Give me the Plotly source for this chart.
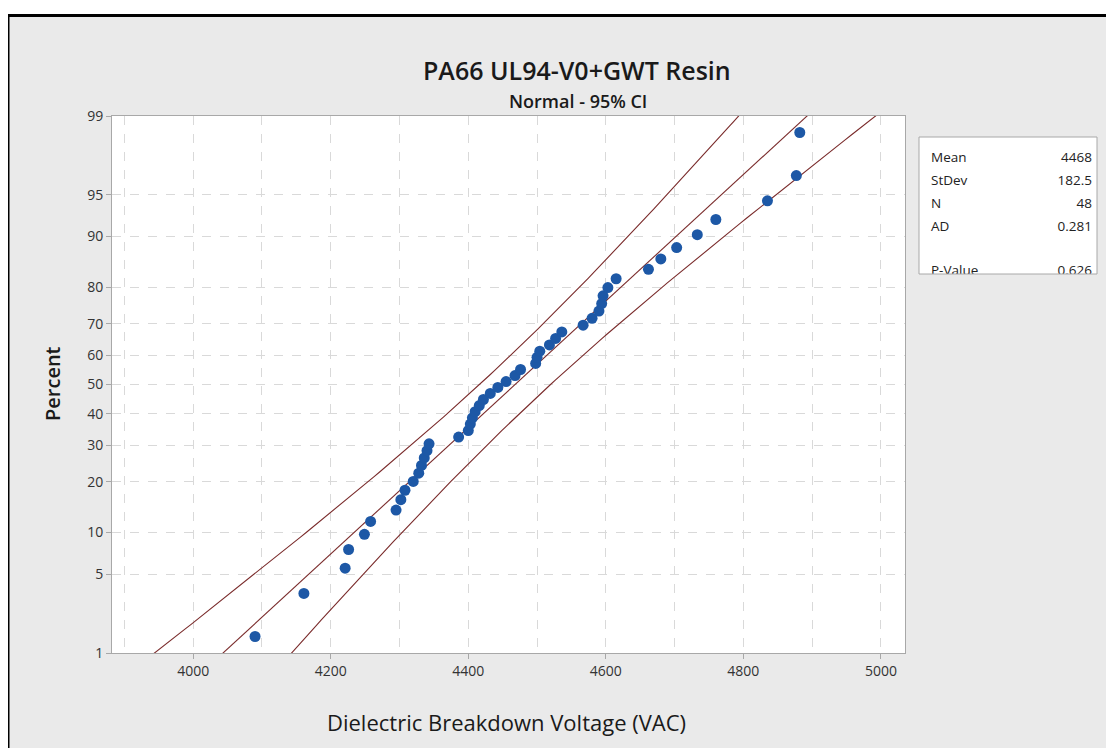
import plotly.graph_objects as go
from statistics import NormalDist

# ---------------- data ----------------
voltage = [4090, 4161, 4221, 4226, 4249, 4258, 4295, 4302, 4308, 4320,
           4328, 4332, 4336, 4340, 4343, 4386, 4400, 4403, 4406, 4410,
           4416, 4422, 4432, 4443, 4455, 4468, 4476, 4498, 4500, 4504,
           4518, 4527, 4536, 4567, 4580, 4590, 4594, 4596, 4603, 4615,
           4662, 4680, 4703, 4733, 4760, 4835, 4877, 4882]
percent = [1.45, 3.51, 5.58, 7.64, 9.71, 11.78, 13.84, 15.91, 17.98, 20.04,
           22.11, 24.17, 26.24, 28.31, 30.37, 32.44, 34.50, 36.57, 38.64, 40.70,
           42.77, 44.83, 46.90, 48.97, 51.03, 53.10, 55.17, 57.23, 59.30, 61.36,
           63.43, 65.50, 67.56, 69.63, 71.69, 73.76, 75.83, 77.89, 79.96, 82.02,
           84.09, 86.16, 88.22, 90.29, 92.36, 94.42, 96.49, 98.55]

stat_labels = ["Mean", "StDev", "N", "AD", "P-Value"]
stat_values = ["4468", "182.5", "48", "0.281", "0.626"]
mean_v, sd_v, n_v = 4468, 182.5, 48

y_tick_pct = [1, 5, 10, 20, 30, 40, 50, 60, 70, 80, 90, 95, 99]
x_tick_vals = [4000, 4200, 4400, 4600, 4800, 5000]

# ---------------- helpers ----------------
nd = NormalDist()
def zq(p):
    return nd.inv_cdf(p / 100.0)

OFF = 8                      # page body margin
W, H = 1114 - OFF, 748 - OFF
ML, MR, MT, MB = 112 - OFF, 10, 116 - OFF, 95
PW, PH = W - ML - MR, H - MT - MB
def px(x):                   # x in reference-window pixels -> paper
    return (x - OFF - ML) / PW
def py(y):                   # y in reference-window pixels -> paper
    return (H - MB - (y - OFF)) / PH

FONT = "Open Sans"
LINE_COL = "#7A2B2B"
TXT = "#1A1A1A"

# fitted line and 95% CI (from the displayed mean / stdev / N)
zs = [-3.2 + i * 0.04 for i in range(161)]
fit_x = [mean_v + sd_v * z for z in zs]
half = [1.96 * sd_v / n_v ** 0.5 * (1 + z * z / 2) ** 0.5 for z in zs]
lo_x = [f - h for f, h in zip(fit_x, half)]
hi_x = [f + h for f, h in zip(fit_x, half)]

fig = go.Figure()
for xs in (lo_x, fit_x, hi_x):
    fig.add_trace(go.Scatter(x=xs, y=zs, mode="lines",
                             line=dict(color=LINE_COL, width=1.1),
                             hoverinfo="skip", showlegend=False))
fig.add_trace(go.Scatter(x=voltage, y=[zq(p) for p in percent], mode="markers",
                         marker=dict(color="#1D58A6", size=11),
                         showlegend=False))

# stats box as clipped text on its own axes
BOX_L, BOX_R, BOX_T, BOX_B = 919, 1097, 137, 274
row_px = [159, 182, 205, 228, 272]
row_y = [(BOX_B - r) / (BOX_B - BOX_T) for r in row_px]
lab_x = (931 - BOX_L) / (BOX_R - BOX_L)
val_x = (1092 - BOX_L) / (BOX_R - BOX_L)
fig.add_trace(go.Scatter(x=[lab_x] * 5, y=row_y,
                         text=stat_labels, mode="text", textposition="middle right",
                         textfont=dict(family=FONT, size=13.5, color="#222222"),
                         xaxis="x2", yaxis="y2", cliponaxis=True,
                         hoverinfo="skip", showlegend=False))
fig.add_trace(go.Scatter(x=[val_x] * 5, y=row_y,
                         text=stat_values, mode="text", textposition="middle left",
                         textfont=dict(family=FONT, size=13.5, color="#222222"),
                         xaxis="x2", yaxis="y2", cliponaxis=True,
                         hoverinfo="skip", showlegend=False))

main_right = px(905)
fig.update_layout(
    width=W, height=H,
    margin=dict(l=ML, r=MR, t=MT, b=MB),
    paper_bgcolor="#EAEAEA", plot_bgcolor="white",
    font=dict(family=FONT, color="#333333"),
    xaxis=dict(domain=[0, main_right], range=[3882, 5035],
               tickvals=x_tick_vals, ticktext=[str(v) for v in x_tick_vals],
               ticks="outside", ticklen=5, tickcolor="#A8A8A8",
               tickfont=dict(size=14, color="#333333"),
               showgrid=True, gridcolor="#D9D9D9", griddash="dash", gridwidth=1,
               minor=dict(dtick=100, tick0=3900, showgrid=True, gridcolor="#D9D9D9",
                          griddash="dash", ticks=""),
               showline=True, linecolor="#A8A8A8", linewidth=1, mirror=True,
               zeroline=False),
    yaxis=dict(domain=[0, 1], range=[zq(1), zq(99)],
               tickvals=[zq(p) for p in y_tick_pct],
               ticktext=[str(p) for p in y_tick_pct],
               ticks="outside", ticklen=5, tickcolor="#A8A8A8",
               tickfont=dict(size=14, color="#333333"),
               showgrid=True, gridcolor="#D9D9D9", griddash="dash", gridwidth=1,
               showline=True, linecolor="#A8A8A8", linewidth=1, mirror=True,
               zeroline=False),
    xaxis2=dict(domain=[px(BOX_L), px(BOX_R)], range=[0, 1], visible=False,
                anchor="y2", fixedrange=True),
    yaxis2=dict(domain=[py(BOX_B), py(BOX_T)], range=[0, 1], visible=False,
                anchor="x2", fixedrange=True),
    showlegend=False,
)

shapes = [
    # white strip above the black frame
    dict(type="rect", xref="paper", yref="paper", x0=px(-50), x1=px(1200),
         y0=py(14), y1=py(-50), fillcolor="white", line=dict(width=0), layer="below"),
    dict(type="line", xref="paper", yref="paper", x0=px(6), x1=px(1200),
         y0=py(15.5), y1=py(15.5), line=dict(color="black", width=3)),
    dict(type="line", xref="paper", yref="paper", x0=px(8.75), x1=px(8.75),
         y0=py(14), y1=py(800), line=dict(color="black", width=1.5)),
    # stats box frame
    dict(type="rect", xref="paper", yref="paper", x0=px(BOX_L), x1=px(BOX_R),
         y0=py(BOX_B), y1=py(BOX_T), fillcolor="rgba(0,0,0,0)",
         line=dict(color="#A8A8A8", width=1)),
]
fig.update_layout(shapes=shapes)

def label(text, x, y, size, weight=400, angle=0):
    fig.add_annotation(text=text, xref="paper", yref="paper", x=px(x), y=py(y),
                       xanchor="center", yanchor="middle", showarrow=False,
                       textangle=angle,
                       font=dict(family=FONT, size=size, color=TXT, weight=weight))

label("PA66 UL94-V0+GWT Resin", 577, 70, 25, 600)
label("Normal - 95% CI", 578, 101, 18, 600)
label("Percent", 52, 384, 20, 600, angle=-90)
label("Dielectric Breakdown Voltage (VAC)", 506, 722, 22, 500)

fig.write_html("out.html")
